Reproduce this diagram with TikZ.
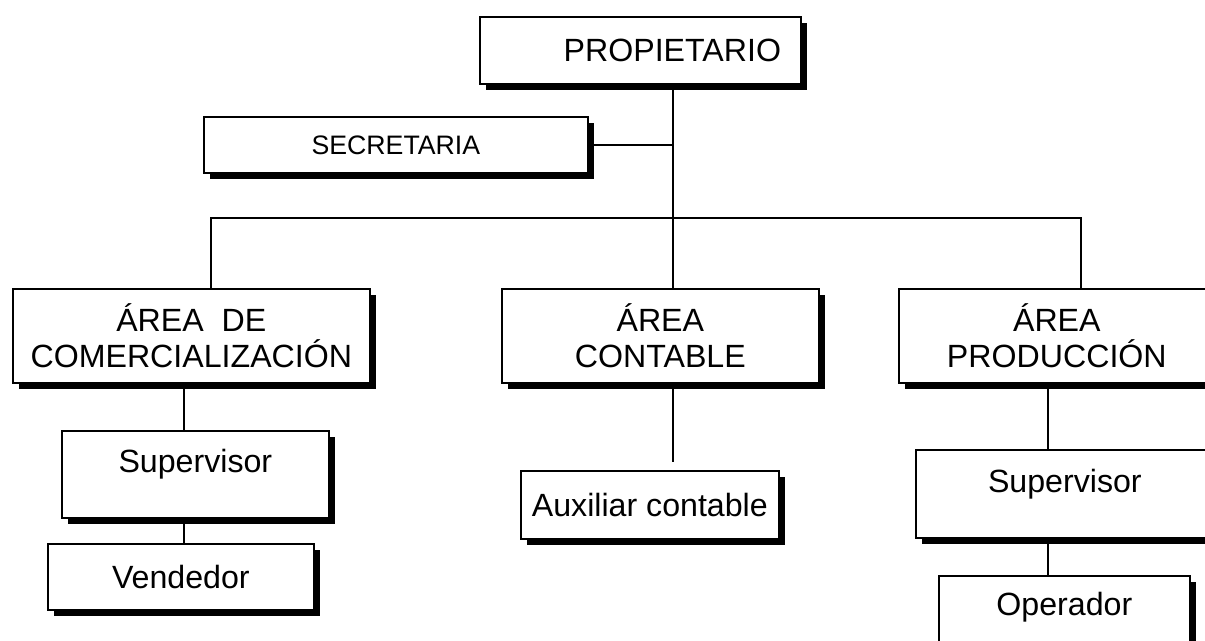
\documentclass[tikz,border=0pt]{standalone}
\usepackage{fontspec}
\setmainfont{Liberation Sans}
\usetikzlibrary{shadows}
\tikzset{
  caja/.style={draw,fill=white,line width=1pt,inner sep=0pt,align=center,
    font=\fontsize{18.3}{20.5}\selectfont,anchor=north west,
    drop shadow={shadow xshift=0.12cm,shadow yshift=-0.12cm,fill=black,opacity=1}},
  linea/.style={line width=1.1pt}
}
\begin{document}
\begin{tikzpicture}[x=0.02cm,y=-0.02cm]
  \clip (0,0) rectangle (1205,641);
  \fill[white] (0,0) rectangle (1205,641);
  % direccion
  \node[caja,minimum width=6.42cm,minimum height=1.34cm] (prop) at (479,16) {\hspace*{1.28cm}PROPIETARIO};
  \node[caja,minimum width=7.68cm,minimum height=1.12cm,font=\fontsize{15.2}{18}\selectfont] (sec) at (203,116) {SECRETARIA};
  % areas
  \node[caja,minimum width=7.14cm,minimum height=1.88cm] (comer) at (12,288) {ÁREA\ \ DE\\COMERCIALIZACIÓN};
  \node[caja,minimum width=6.34cm,minimum height=1.88cm] (cont) at (501,288) {ÁREA\\CONTABLE};
  \node[caja,minimum width=6.32cm,minimum height=1.88cm] (prod) at (898,288) {ÁREA\\PRODUCCIÓN};
  % puestos
  \node[caja,minimum width=5.34cm,text height=0.84cm,text depth=0.9cm] (sup1) at (61,430) {Supervisor};
  \node[caja,minimum width=5.32cm,minimum height=1.32cm] (vend) at (47,543) {Vendedor};
  \node[caja,minimum width=5.16cm,minimum height=1.36cm] (aux) at (520,470) {Auxiliar contable};
  \node[caja,minimum width=5.96cm,text height=0.86cm,text depth=0.9cm] (sup2) at (915,449) {Supervisor};
  \node[caja,minimum width=5.02cm,text height=0.8cm,text depth=1.0cm] (oper) at (938,575) {Operador};
  % lineas
  \coordinate (bus) at (673,218);
  \coordinate (izq) at (211,218);
  \coordinate (der) at (1081,218);
  \coordinate (bajaizq) at (184,0);
  \coordinate (bajader) at (1048,0);
  \coordinate (finconta) at (673,462);
  \draw[linea] (prop.south -| bus) -- (bus);
  \draw[linea] (sec.east) -- (sec.east -| bus);
  \draw[linea] (comer.north -| izq) -- (izq) -- (der) -- (prod.north -| der);
  \draw[linea] (bus) -- (cont.north -| bus);
  \draw[linea] (cont.south -| bus) -- (finconta);
  \draw[linea] (comer.south -| bajaizq) -- (sup1.north -| bajaizq);
  \draw[linea] (sup1.south -| bajaizq) -- (vend.north -| bajaizq);
  \draw[linea] (prod.south -| bajader) -- (sup2.north -| bajader);
  \draw[linea] (sup2.south -| bajader) -- (oper.north -| bajader);
\end{tikzpicture}
\end{document}
